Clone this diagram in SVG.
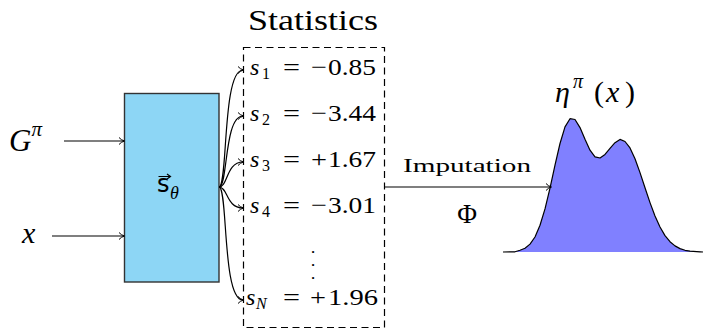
<svg xmlns="http://www.w3.org/2000/svg" width="704" height="331" viewBox="0 0 704 331">
<style>
.serif{font-family:"Liberation Serif","DejaVu Serif",serif;fill:#000}
.it{font-style:italic}
.ln{fill:none;stroke:#000;stroke-width:1.2}
.v{font-size:24px}
.sub{font-size:16px}
.dot{font-size:9px}
</style>
<defs>
<marker id="ah" markerWidth="10" markerHeight="10" refX="8" refY="5" orient="auto" markerUnits="userSpaceOnUse">
<path d="M3,1.5 Q5,4 8.5,5 Q5,6 3,8.5" fill="none" stroke="#000" stroke-width="1"/>
</marker>
</defs>
<rect width="704" height="331" fill="#fff"/>

<g id="input-G">
<text class="serif" x="9" y="151" font-size="31"><tspan class="it">G</tspan><tspan class="it" font-size="21" dy="-15">π</tspan></text>
</g>
<g id="input-x">
<text class="serif it" x="22" y="243" font-size="30">x</text>
</g>

<g id="network">
<rect x="124.5" y="93.5" width="94.5" height="188.5" fill="#8dd6f5" stroke="#333" stroke-width="1.4"/>
<text x="157" y="192" font-family="'DejaVu Sans','Liberation Sans',sans-serif" font-size="24">s</text>
<path d="M158.5,176.5 H170 M167,174 L170.5,176.5 L167,179" fill="none" stroke="#000" stroke-width="1.2"/>
<text class="serif it" x="170" y="199" font-size="18">θ</text>
</g>

<g id="statistics">
<text class="serif" x="248" y="30" font-size="30" textLength="130" lengthAdjust="spacingAndGlyphs">Statistics</text>
<rect x="243.5" y="47.5" width="141" height="280" fill="none" stroke="#000" stroke-width="1.2" stroke-dasharray="7 4.5"/>
<g id="s1">
<text class="serif it v" x="250" y="75">s</text>
<text class="serif sub" x="262" y="79">1</text>
<text class="serif v" x="283" y="75" textLength="17" lengthAdjust="spacingAndGlyphs">=</text>
<text class="serif v" x="311" y="75" textLength="16" lengthAdjust="spacingAndGlyphs">−</text>
<text class="serif v" x="328" y="75" textLength="48" lengthAdjust="spacingAndGlyphs">0.85</text>
</g>
<g id="s2">
<text class="serif it v" x="250" y="121">s</text>
<text class="serif sub" x="262" y="125">2</text>
<text class="serif v" x="283" y="121" textLength="17" lengthAdjust="spacingAndGlyphs">=</text>
<text class="serif v" x="311" y="121" textLength="16" lengthAdjust="spacingAndGlyphs">−</text>
<text class="serif v" x="328" y="121" textLength="48" lengthAdjust="spacingAndGlyphs">3.44</text>
</g>
<g id="s3">
<text class="serif it v" x="250" y="167">s</text>
<text class="serif sub" x="262" y="171">3</text>
<text class="serif v" x="283" y="167" textLength="17" lengthAdjust="spacingAndGlyphs">=</text>
<text class="serif v" x="311" y="167" textLength="16" lengthAdjust="spacingAndGlyphs">+</text>
<text class="serif v" x="328" y="167" textLength="48" lengthAdjust="spacingAndGlyphs">1.67</text>
</g>
<g id="s4">
<text class="serif it v" x="250" y="213">s</text>
<text class="serif sub" x="262" y="217">4</text>
<text class="serif v" x="283" y="213" textLength="17" lengthAdjust="spacingAndGlyphs">=</text>
<text class="serif v" x="311" y="213" textLength="16" lengthAdjust="spacingAndGlyphs">−</text>
<text class="serif v" x="328" y="213" textLength="48" lengthAdjust="spacingAndGlyphs">3.01</text>
</g>
<g id="vdots">
<text class="serif dot" x="313" y="255" text-anchor="middle">•</text>
<text class="serif dot" x="313" y="268" text-anchor="middle">•</text>
<text class="serif dot" x="313" y="281" text-anchor="middle">•</text>
</g>
<g id="sN">
<text class="serif it v" x="246" y="305">s</text>
<text class="serif it sub" x="256" y="309">N</text>
<text class="serif v" x="283" y="305" textLength="17" lengthAdjust="spacingAndGlyphs">=</text>
<text class="serif v" x="310" y="305" textLength="16" lengthAdjust="spacingAndGlyphs">+</text>
<text class="serif v" x="328" y="305" textLength="50" lengthAdjust="spacingAndGlyphs">1.96</text>
</g>
</g>

<g id="distribution">
<path d="M503,252 L515,251.8 L520,250.3 L525,248.3 L530,244.1 L535,237 L540,225.2 L545,208.9 L550,188.2 L555,165.2 L560,143.5 L565,126.9 L570,118.7 L575,119.5 L580,127.6 L585,139.3 L590,150.2 L595,156.8 L600,158 L605,154.4 L610,148.4 L615,142.7 L620,139.4 L625,141.5 L630,147.9 L635,158.8 L640,172.6 L645,187.7 L650,202.6 L655,216 L660,227 L665,235.6 L670,241.7 L675,245.9 L680,248.6 L685,250.3 L690,251.1 L700,251.8 L703,252 Z" fill="#8080ff" stroke="none"/>
<path class="ln" stroke-linejoin="round" d="M503,252 L515,251.8 L520,250.3 L525,248.3 L530,244.1 L535,237 L540,225.2 L545,208.9 L550,188.2 L555,165.2 L560,143.5 L565,126.9 L570,118.7 L575,119.5 L580,127.6 L585,139.3 L590,150.2 L595,156.8 L600,158 L605,154.4 L610,148.4 L615,142.7 L620,139.4 L625,141.5 L630,147.9 L635,158.8 L640,172.6 L645,187.7 L650,202.6 L655,216 L660,227 L665,235.6 L670,241.7 L675,245.9 L680,248.6 L685,250.3 L690,251.1 L700,251.8 L703,252"/>
<text class="serif" y="102" font-size="30"><tspan class="it" x="555">η</tspan><tspan class="it" font-size="20" x="573" y="88">π</tspan><tspan x="594" y="102">(</tspan><tspan class="it" x="606">x</tspan><tspan x="625">)</tspan></text>
</g>

<g id="connectors">
<line class="ln" x1="64" y1="141" x2="124" y2="141" marker-end="url(#ah)"/>
<line class="ln" x1="52" y1="236" x2="124" y2="236" marker-end="url(#ah)"/>
<path class="ln" d="M219,187 C228,187 222,70 243,70" marker-end="url(#ah)"/>
<path class="ln" d="M219,187 C228,187 224,116 243,116" marker-end="url(#ah)"/>
<path class="ln" d="M219,187 C228,187 226,162 243,162" marker-end="url(#ah)"/>
<path class="ln" d="M219,187 C228,187 226,208 243,208" marker-end="url(#ah)"/>
<path class="ln" d="M219,187 C228,187 222,300 243,300" marker-end="url(#ah)"/>
<line class="ln" x1="385" y1="187" x2="551" y2="187" marker-end="url(#ah)"/>
<text class="serif" x="403" y="172" font-size="18" textLength="128" lengthAdjust="spacingAndGlyphs">Imputation</text>
<text class="serif" x="467" y="223" font-size="27" text-anchor="middle">Φ</text>
</g>
</svg>
